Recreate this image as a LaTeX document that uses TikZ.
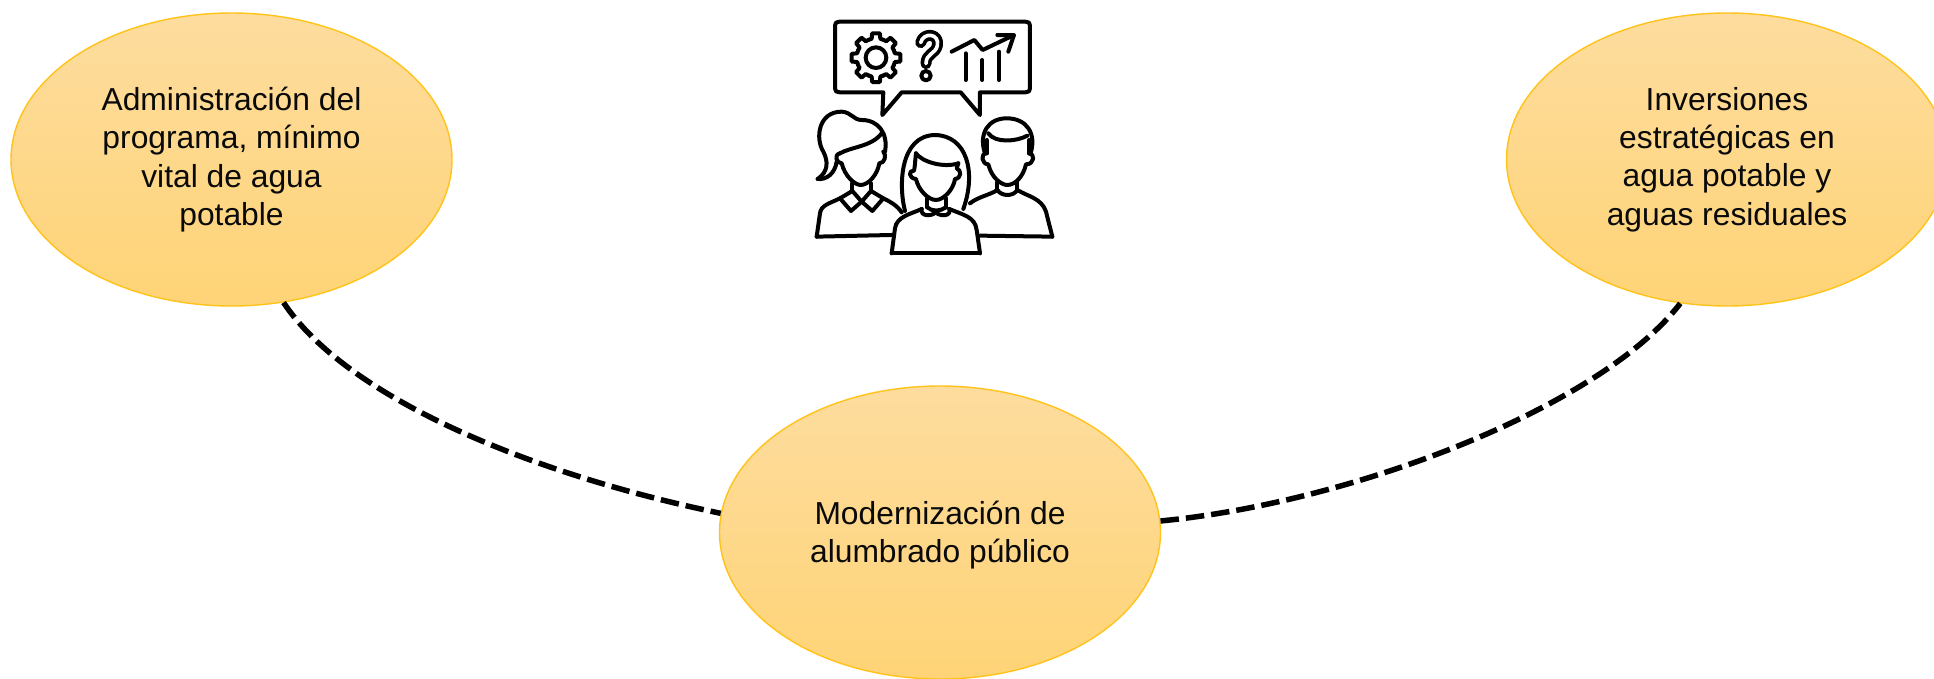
\documentclass[tikz,border=0pt]{standalone}
\usepackage{fontspec}
\setmainfont{Liberation Sans}
\usetikzlibrary{shapes.geometric}
\definecolor{lobetop}{HTML}{FDDC9E}
\definecolor{lobebot}{HTML}{FFD477}
\definecolor{lobeedge}{HTML}{FFC31A}
\definecolor{inkc}{HTML}{0A0A0A}
\tikzset{
  lobe/.style={ellipse,draw=lobeedge,line width=1.4pt,top color=lobetop,bottom color=lobebot,
    minimum width=441pt,minimum height=293pt,inner sep=0pt,align=center,text=inkc,
    font=\fontsize{31.8}{38.4}\selectfont},
  link/.style={line width=5.5pt,black,dash pattern=on 18.5pt off 7pt},
  ink/.style={line width=4pt,black,line cap=round,line join=round}
}
\begin{document}
\begin{tikzpicture}[x=1pt,y=-1pt]
\useasboundingbox (0,0) rectangle (1934,678);
\clip (0,0) rectangle (1934,678);
\fill[white] (0,0) rectangle (1934,678);
\node[lobe] (admin) at (231.5,159.5) {Administración del\\programa, mínimo\\vital de agua\\potable};
\node[lobe] (alum) at (940,532.5) {\rule{0pt}{28pt}Modernización de\\alumbrado público};
\node[lobe] (inv) at (1727,159.5) {Inversiones\\estratégicas en\\agua potable y\\aguas residuales};
\draw[link] (admin.-70.3) .. controls (345,395) and (522,472) .. (alum.175);
\draw[link] (alum.3.5) .. controls (1350,503) and (1600,408) .. (inv.-108.5);
\begin{scope}[shift={(790,5)},x=0.3333pt,y=-0.3333pt,ink]
  % speech bubble
  \draw (160,50) -- (695,50) .. controls (720,50) .. (720,75) -- (720,237)
    .. controls (720,262) .. (695,262) -- (570,262) -- (570,330) -- (512,262) -- (335,262)
    -- (277,330) -- (280,262) -- (160,262) .. controls (135,262) .. (135,237) -- (135,75)
    .. controls (135,50) .. cycle;
  % gear
  \foreach \a in {0,45,...,315}{
    \draw ([shift={(258,158)}]\a-22.5:58) -- ([shift={(258,158)}]\a-13:58)
      -- ([shift={(258,158)}]\a-9:74) -- ([shift={(258,158)}]\a+9:74)
      -- ([shift={(258,158)}]\a+13:58) -- ([shift={(258,158)}]\a+22.5:58);
  }
  \draw (258,158) circle (31);
  % question mark
  \draw[line width=11pt] (392,113) .. controls (400,80) and (450,85) .. (442,122)
    .. controls (436,148) and (408,145) .. (408,176);
  \draw[white,line width=3.6pt] (392,113) .. controls (400,80) and (450,85) .. (442,122)
    .. controls (436,148) and (408,145) .. (408,176);
  \draw (408,212) circle (14);
  % chart
  \draw (485,140) -- (553,105) -- (578,135) -- (668,92);
  \draw (622,90) -- (672,90) -- (655,140);
  \draw (527,145) -- (527,225);
  \draw (577,165) -- (577,225);
  \draw (627,140) -- (627,225);
  % left woman
  \draw (83,522) .. controls (110,525) and (135,505) .. (140,470);
  \draw (83,522) .. controls (115,500) and (115,470) .. (100,440)
    .. controls (75,400) and (85,320) .. (155,320)
    .. controls (185,322) and (190,345) .. (215,345)
    .. controls (265,345) and (295,385) .. (285,440);
  \draw (150,445) .. controls (185,425) and (245,425) .. (275,385);
  \draw (150,445) .. controls (130,450) and (140,475) .. (155,475)
    .. controls (165,515) and (195,540) .. (212,540)
    .. controls (235,540) and (262,510) .. (268,475)
    .. controls (285,475) and (290,450) .. (280,440);
  \draw (187,535) -- (187,558);
  \draw (243,535) -- (243,558);
  \draw (150,580) -- (187,558) -- (215,590) -- (183,618) -- (150,580);
  \draw (280,580) -- (243,558) -- (215,590) -- (247,618) -- (280,580);
  \draw (80,695) -- (90,625) .. controls (93,600) and (120,595) .. (150,580);
  \draw (280,580) .. controls (300,590) and (320,600) .. (335,622);
  \draw (80,695) -- (305,690);
  % centre woman
  \draw (345,618) .. controls (325,540) and (330,392) .. (435,390)
    .. controls (530,392) and (560,500) .. (520,612);
  \draw (378,445) .. controls (395,470) and (460,490) .. (505,475);
  \draw (378,445) .. controls (375,470) and (375,485) .. (372,497)
    .. controls (355,495) and (355,520) .. (378,522)
    .. controls (385,555) and (415,585) .. (438,585)
    .. controls (460,585) and (490,555) .. (495,522)
    .. controls (515,520) and (515,495) .. (500,490) -- (505,475);
  \draw (412,580) -- (412,607);
  \draw (468,580) -- (468,607);
  \draw (395,612) .. controls (390,635) and (425,635) .. (437,622)
    .. controls (450,635) and (485,635) .. (478,612);
  \draw (412,607) .. controls (425,620) and (450,620) .. (468,607);
  \draw (305,745) -- (315,670) .. controls (320,635) and (360,628) .. (395,612);
  \draw (478,612) .. controls (520,630) and (555,635) .. (560,675) -- (570,745);
  \draw (305,745) -- (570,745);
  % right man
  \draw (585,445) .. controls (565,385) and (595,340) .. (650,340)
    .. controls (710,340) and (740,385) .. (722,445);
  \draw (595,385) .. controls (615,415) and (680,410) .. (712,392);
  \draw (590,405) -- (590,445);
  \draw (717,405) -- (717,445);
  \draw (590,445) .. controls (570,445) and (575,478) .. (595,478)
    .. controls (605,520) and (635,540) .. (652,540)
    .. controls (675,540) and (700,515) .. (708,478)
    .. controls (735,478) and (735,445) .. (717,445);
  \draw (622,532) -- (622,555);
  \draw (682,532) -- (682,555);
  \draw (622,555) .. controls (635,575) and (670,575) .. (682,555);
  \draw (540,595) .. controls (565,575) and (600,570) .. (622,555);
  \draw (682,555) .. controls (715,575) and (755,580) .. (768,620) -- (787,695);
  \draw (570,692) -- (787,695);
\end{scope}
\end{tikzpicture}
\end{document}
